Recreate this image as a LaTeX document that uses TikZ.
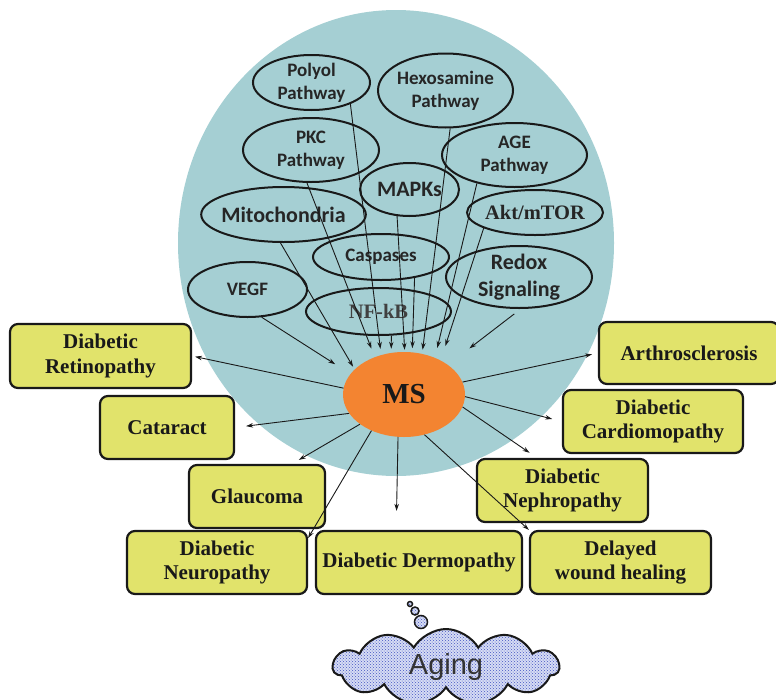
\documentclass[tikz,border=0pt]{standalone}
\usepackage{fontspec}
\setmainfont{Liberation Serif}
\newfontfamily\calibfont{Carlito}
\newfontfamily\arialfont{Liberation Sans}
\usepackage{tikz}
\usetikzlibrary{
  arrows.meta,
  shapes.geometric,
  shapes.symbols,
  patterns
}
\definecolor{msteal}{RGB}{165,207,211}
\definecolor{msorange}{RGB}{243,132,49}
\definecolor{disyellow}{RGB}{225,227,107}
\definecolor{cloudblue}{RGB}{214,220,244}
\definecolor{clouddot}{RGB}{70,85,195}

\begin{document}
\begin{tikzpicture}[x=1pt, y=-1pt,
  factor/.style={ellipse, draw=black!90, line width=2pt, inner sep=-4pt,
    align=center, text=black!85, font=\calibfont\bfseries\fontsize{19}{23}\selectfont},
  bigfactor/.style={factor, font=\calibfont\bfseries\fontsize{22}{27}\selectfont},
  serifactor/.style={factor, font=\bfseries\fontsize{20.5}{24}\selectfont},
  disease/.style={draw=black!90, line width=2.2pt, fill=disyellow, rounded corners=8pt,
    align=center, text=black!90, font=\bfseries\fontsize{21}{24.5}\selectfont},
  link/.style={-{Stealth[length=7pt,width=4.5pt]}, line width=0.9pt, black!90}]
  \clip (0,0) rectangle (776,699);

  % background oval
  \fill[msteal] (396,243) ellipse [x radius=218pt, y radius=233pt];

  % signalling factors
  \node[factor, minimum width=117pt, minimum height=55pt] (polyol) at (311.5,82.5) {Polyol\\Pathway};
  \node[factor, minimum width=135pt, minimum height=74pt] (hexo) at (445.5,90.5) {Hexosamine\\Pathway};
  \node[factor, minimum width=136pt, minimum height=64pt] (pkc) at (311,150) {PKC\\Pathway};
  \node[factor, minimum width=145pt, minimum height=64pt] (age) at (514.5,155) {AGE\\Pathway};
  \node[bigfactor, minimum width=99pt, minimum height=53pt] (mapk) at (409.5,189.5) {MAPKs};
  \node[bigfactor, minimum width=163pt, minimum height=55pt] (mito) at (283.5,214.5) {Mitochondria};
  \node[serifactor, minimum width=136pt, minimum height=45pt] (akt) at (535,212.5) {Akt/mTOR};
  \node[factor, minimum width=136pt, minimum height=46pt] (casp) at (381,257) {Caspases};
  \node[bigfactor, minimum width=146pt, minimum height=62pt] (redox) at (519,277) {Redox\\Signaling};
  \node[factor, minimum width=119pt, minimum height=55pt] (vegf) at (247.5,289.5) {VEGF};
  \node[serifactor, text=black!75, minimum width=145pt, minimum height=47pt] (nfkb) at (378.5,311.5) {NF-kB};

  % central node
  \node[ellipse, fill=msorange, minimum width=122pt, minimum height=85pt, inner sep=0pt,
        font=\bfseries\fontsize{29}{32}\selectfont, text=black!90] (ms) at (404,394.5) {MS};

  % complications
  \node[disease, minimum width=181pt, minimum height=64pt] (retino) at (100.5,356) {Diabetic\\Retinopathy};
  \node[disease, minimum width=134pt, minimum height=63pt] (cataract) at (167,427.5) {Cataract};
  \node[disease, minimum width=136pt, minimum height=63pt] (glaucoma) at (257,496.5) {Glaucoma};
  \node[disease, minimum width=180pt, minimum height=63pt] (neuro) at (217,562.5) {Diabetic\\Neuropathy};
  \node[disease, minimum width=206pt, minimum height=63pt] (dermo) at (419,562.5) {Diabetic Dermopathy};
  \node[disease, minimum width=181pt, minimum height=63pt] (delayed) at (620.5,562.5) {Delayed\\wound healing};
  \node[disease, minimum width=171pt, minimum height=63pt] (nephro) at (562.5,490.5) {Diabetic\\Nephropathy};
  \node[disease, minimum width=180pt, minimum height=63pt] (cardio) at (653,421.5) {Diabetic\\Cardiomopathy};
  \node[disease, minimum width=180pt, minimum height=62pt] (arthro) at (689,353) {Arthrosclerosis};

  % factors into MS
  \draw[link, shorten >=18pt] (vegf.-63) -- (ms.159);
  \draw[link, shorten >=3pt] (mito.-96) -- (ms.153);
  \draw[link, shorten >=9pt] (pkc.-97) -- (ms.128);
  \draw[link, shorten >=6pt] (polyol.-29) -- (ms.120);
  \draw[link, shorten >=4pt] (nfkb.-62) -- (ms.107);
  \draw[link, shorten >=2pt] (mapk.-115) -- (ms.89);
  \draw[link, shorten >=4pt] (casp.-32) -- (ms.79);
  \draw[link, shorten >=4pt] (hexo.-83) -- (ms.66);
  \draw[link, shorten >=10pt] (age.217) -- (ms.50);
  \draw[link, shorten >=15pt] (akt.197) -- (ms.43);
  \draw[link, shorten <=8pt, shorten >=27pt] (redox.-87) -- (ms.34);

  % MS out to complications
  \draw[link, shorten >=3pt] (ms.174) -- (retino.east);
  \draw[link, shorten >=11pt] (ms.199) -- (cataract.east);
  \draw[link, shorten >=8pt] (ms.214) -- (glaucoma.43);
  \draw[link] (ms.228) -- (neuro.15);
  \draw[link, shorten >=19pt] (ms.-98) -- (dermo.125);
  \draw[link] (ms.-63) -- (delayed.north west);
  \draw[link, shorten >=9pt] (ms.-12) -- (nephro.128);
  \draw[link, shorten >=10pt] (ms.-2) -- (cardio.west);
  \draw[link, shorten >=6pt] (ms.12) -- (arthro.west);

  % thought cloud
  \node[cloud, cloud puffs=11, cloud puff arc=120, aspect=3.2, draw=black!90, line width=2pt,
        preaction={fill=cloudblue}, pattern=crosshatch dots, pattern color=clouddot,
        minimum width=226pt, minimum height=76pt, inner sep=0pt,
        font=\arialfont\fontsize{29}{32}\selectfont, text=black!80] (aging) at (446,667) {Aging};
  \foreach \cx/\cy/\r in {410/604/2.5, 415/611/4, 421/622/6.5}
    \draw[line width=1.5pt, black!90, preaction={fill=cloudblue}, pattern=crosshatch dots, pattern color=clouddot]
      (\cx,\cy) circle [radius=\r pt];

\end{tikzpicture}
\end{document}
